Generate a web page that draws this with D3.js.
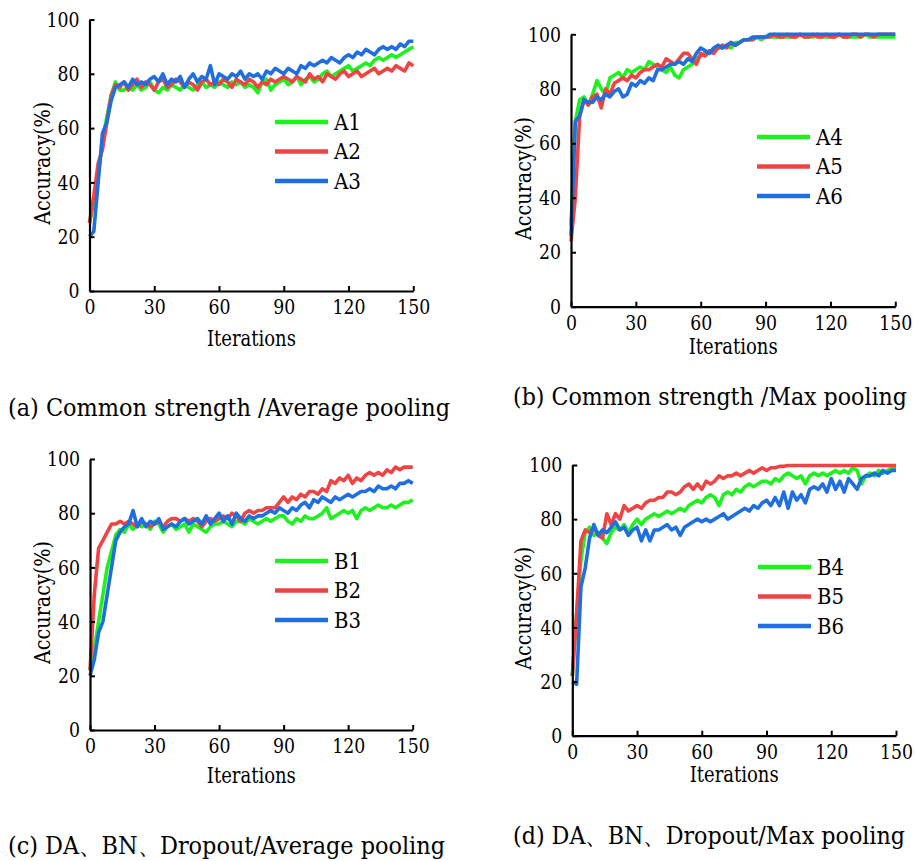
<!DOCTYPE html>
<html>
<head>
<meta charset="utf-8">
<script src="https://cdn.jsdelivr.net/npm/d3@7"></script>
<style>
  body { margin: 0; background: #fff; }
</style>
</head>
<body>
<div id="chart"></div>
<script>
// iterations sampled every 2 steps: 0, 2, 4, ... 150
const iters = d3.range(0, 151, 2);
const xTicks = [0, 30, 60, 90, 120, 150];
const yTicks = [0, 20, 40, 60, 80, 100];

// (a) Common strength / Average pooling
const A1 = [25,33,42,55,64,72,77,74,74,75,74,76,74,75,77,74,73,75,74,76,75,74,76,75,74,76,77,75,76,75,77,76,75,77,76,77,75,76,75,73,77,78,74,76,77,78,76,77,79,76,78,79,77,78,80,81,79,80,81,82,83,81,82,83,84,83,85,86,85,86,87,86,87,88,89,90];
const A2 = [25,35,47,52,62,72,76,75,77,74,76,78,75,77,76,74,77,78,75,76,78,77,75,77,76,74,77,78,76,77,76,78,77,75,78,77,76,78,77,75,77,76,78,77,78,79,78,77,79,78,77,80,78,79,77,80,79,78,80,81,79,80,81,79,80,81,82,80,81,82,81,83,82,81,84,83];
const A3 = [20,22,40,58,62,70,75,76,77,75,78,76,77,76,78,79,77,80,76,78,77,79,75,78,80,77,79,78,83,76,80,79,78,80,79,81,78,80,79,80,78,81,80,82,81,80,82,81,80,83,82,84,83,84,85,84,86,85,84,86,87,86,88,87,89,88,87,89,90,89,90,89,91,90,92,92];

// (b) Common strength / Max pooling
const A4 = [30,68,76,77,74,78,83,80,78,84,85,86,84,87,86,87,88,87,90,89,88,87,86,88,85,84,87,88,89,91,92,93,93,94,95,95,96,95,97,97,98,98,98,99,98,99,99,99,99,99,99,99,99,100,99,99,99,100,99,99,99,99,100,99,99,99,99,99,100,99,99,99,99,99,99,99];
const A5 = [24,40,70,76,74,77,78,73,80,78,82,83,84,83,85,84,86,87,87,88,89,88,91,90,89,91,93,93,91,89,93,92,94,93,95,96,95,97,96,97,98,98,98,99,99,99,99,100,99,99,100,99,99,100,99,99,100,99,99,100,99,99,100,99,99,100,100,99,100,100,99,100,100,100,100,100];
const A6 = [26,68,70,76,75,75,77,76,78,77,79,80,77,78,82,81,83,82,84,83,87,87,88,89,89,90,89,91,90,93,95,94,93,95,96,95,96,97,96,97,98,98,99,99,99,99,100,100,100,100,100,100,100,100,100,100,100,100,100,100,100,100,100,100,100,100,100,100,100,100,100,100,100,100,100,100];

// (c) DA, BN, Dropout / Average pooling
const B1 = [22,30,40,50,60,66,72,74,73,76,74,76,75,76,74,77,76,73,75,76,74,75,76,73,76,75,74,73,75,76,76,77,76,75,77,77,76,78,77,76,77,78,77,78,79,79,77,76,78,77,79,78,78,79,80,82,78,79,80,81,80,81,78,81,82,81,82,83,82,82,83,82,83,84,84,85];
const B2 = [22,50,67,70,73,76,76,77,76,77,76,75,77,76,75,76,77,75,77,78,78,77,78,77,78,77,75,77,78,77,78,79,78,80,79,77,80,81,80,81,81,82,82,82,84,86,84,86,85,87,86,88,88,87,89,88,92,91,93,92,94,91,93,92,94,95,94,95,94,96,95,97,96,97,97,97];
const B3 = [20,26,36,40,50,60,70,73,75,76,81,75,78,75,77,76,78,74,75,76,75,77,78,76,77,78,76,79,76,78,80,77,79,76,80,78,77,79,78,79,79,80,81,80,82,81,80,82,81,83,84,82,85,84,86,85,84,86,85,86,87,86,87,88,88,89,88,90,89,89,90,89,91,91,92,91];

// (d) DA, BN, Dropout / Max pooling
const B4 = [22,45,65,75,77,74,75,73,71,75,77,76,78,75,78,80,78,80,81,82,81,82,83,82,83,84,83,85,86,87,86,88,89,88,85,89,90,89,91,90,92,93,92,93,94,94,93,95,94,96,97,96,95,96,93,96,97,96,97,96,97,98,97,98,97,99,98,93,96,97,96,98,97,98,99,99];
const B5 = [22,45,72,76,75,77,74,73,82,78,82,80,85,83,84,85,84,86,87,87,88,88,90,90,89,90,92,93,91,93,91,94,93,94,96,95,96,96,97,96,97,98,97,98,99,98,99,99,99.5,99.5,99.8,99.8,99.8,99.8,99.8,99.8,99.8,99.8,99.8,99.8,99.8,99.8,99.8,99.8,99.8,99.8,99.8,99.8,99.8,99.8,99.8,99.8,99.8,99.8,99.8,99.8];
const B6 = [20,19,55,62,73,78,74,76,75,77,79,76,77,74,76,77,72,76,72,76,76,77,78,76,77,74,77,78,79,80,79,80,79,80,81,82,80,81,82,83,84,83,85,84,86,87,85,88,85,90,84,90,87,89,86,91,92,91,93,90,95,91,94,90,95,93,91,95,96,96,97,96,98,97,98,98];

const colors = { green: "#1ef21e", red: "#f04444", blue: "#1f6fe0" };
const serif = "DejaVu Serif";

const panels = [
  { x0: 89.5, x1: 413.3, y0: 291, y1: 19.5, series: [["A1", A1, colors.green], ["A2", A2, colors.red], ["A3", A3, colors.blue]],
    leg: { x: 275, y: 122 }, xTitleY: 338, yTitleX: 42, caption: "(a) Common strength /Average pooling", capX: 8, capY: 416, capW: 442 },
  { x0: 571, x1: 895.3, y0: 306.7, y1: 34.3, series: [["A4", A4, colors.green], ["A5", A5, colors.red], ["A6", A6, colors.blue]],
    leg: { x: 757, y: 137 }, xTitleY: 346, yTitleX: 523, caption: "(b) Common strength /Max pooling", capX: 513, capY: 405, capW: 394 },
  { x0: 90, x1: 412.7, y0: 730, y1: 459, series: [["B1", B1, colors.green], ["B2", B2, colors.red], ["B3", B3, colors.blue]],
    leg: { x: 275, y: 561 }, xTitleY: 775, yTitleX: 42, caption: "(c) DA\u3001BN\u3001Dropout/Average pooling", capX: 8, capY: 854, capW: 437 },
  { x0: 572.3, x1: 896, y0: 735.7, y1: 465, series: [["B4", B4, colors.green], ["B5", B5, colors.red], ["B6", B6, colors.blue]],
    leg: { x: 758, y: 567 }, xTitleY: 774, yTitleX: 523, caption: "(d) DA\u3001BN\u3001Dropout/Max pooling", capX: 513, capY: 844, capW: 392 }
];

const svg = d3.select("#chart")
  .append("svg")
  .attr("width", 915)
  .attr("height", 861);

panels.forEach(function (p) {
  const x = d3.scaleLinear().domain([0, 150]).range([p.x0, p.x1]);
  const y = d3.scaleLinear().domain([0, 100]).range([p.y0, p.y1]);
  const g = svg.append("g");

  // lines first, axes drawn on top
  const line = d3.line()
    .x(function (d, i) { return x(iters[i]); })
    .y(function (d) { return y(d); });

  p.series.forEach(function (s) {
    g.append("path")
      .datum(s[1])
      .attr("d", line)
      .attr("fill", "none")
      .attr("stroke", s[2])
      .attr("stroke-width", 3.6)
      .attr("stroke-linejoin", "round");
  });

  const xAxis = g.append("g")
    .attr("transform", "translate(0," + p.y0 + ")")
    .call(d3.axisBottom(x).tickValues(xTicks).tickSizeInner(-5).tickSizeOuter(0).tickPadding(8));
  const yAxis = g.append("g")
    .attr("transform", "translate(" + p.x0 + ",0)")
    .call(d3.axisLeft(y).tickValues(yTicks).tickSizeInner(-5).tickSizeOuter(0).tickPadding(10));

  [xAxis, yAxis].forEach(function (a) {
    a.attr("font-family", serif).attr("font-size", 21);
    a.select(".domain").attr("stroke", "#000").attr("stroke-width", 2.2);
    a.selectAll(".tick line").attr("stroke", "#000").attr("stroke-width", 2);
    a.selectAll(".tick text").attr("fill", "#000")
      .attr("textLength", function (d) { return String(d).length * 11; })
      .attr("lengthAdjust", "spacingAndGlyphs");
  });

  g.append("text")
    .attr("x", (p.x0 + p.x1) / 2)
    .attr("y", p.xTitleY)
    .attr("dy", "0.35em")
    .attr("text-anchor", "middle")
    .attr("font-family", serif)
    .attr("font-size", 22)
    .attr("textLength", 89)
    .attr("lengthAdjust", "spacingAndGlyphs")
    .text("Iterations");

  g.append("text")
    .attr("transform", "translate(" + p.yTitleX + "," + ((p.y0 + p.y1) / 2 + 8) + ") rotate(-90)")
    .attr("dy", "0.35em")
    .attr("text-anchor", "middle")
    .attr("font-family", serif)
    .attr("font-size", 22)
    .attr("textLength", 123)
    .attr("lengthAdjust", "spacingAndGlyphs")
    .text("Accuracy(%)");

  // legend
  p.series.forEach(function (s, i) {
    const ly = p.leg.y + i * 29.5;
    g.append("line")
      .attr("x1", p.leg.x).attr("x2", p.leg.x + 53)
      .attr("y1", ly).attr("y2", ly)
      .attr("stroke", s[2])
      .attr("stroke-width", 4.5);
    g.append("text")
      .attr("x", p.leg.x + 59)
      .attr("y", ly)
      .attr("dy", "0.35em")
      .attr("font-family", serif)
      .attr("font-size", 22)
      .attr("textLength", 27)
      .attr("lengthAdjust", "spacingAndGlyphs")
      .text(s[0]);
  });

  g.append("text")
    .attr("x", p.capX)
    .attr("y", p.capY)
    .attr("font-family", serif)
    .attr("font-size", 25)
    .attr("textLength", p.capW)
    .attr("lengthAdjust", "spacingAndGlyphs")
    .text(p.caption);
});
</script>
</body>
</html>
